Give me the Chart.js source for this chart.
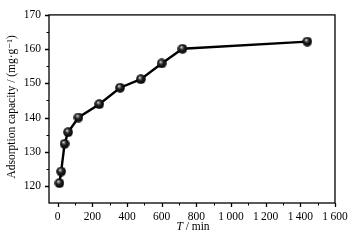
<!DOCTYPE html>
<html>
<head>
<meta charset="utf-8">
<script src="https://cdn.jsdelivr.net/npm/chart.js@4/dist/chart.umd.min.js"></script>
<style>
html,body{margin:0;padding:0;background:#fff;}
#wrap{width:359px;height:240px;position:relative;}
</style>
</head>
<body>
<div id="wrap"><canvas id="c" width="359" height="240"></canvas></div>
<script>
// ---- data ----
const timeMin = [10, 20, 40, 60, 120, 240, 360, 480, 600, 720, 1440];
const capacity = [120.8, 124.2, 132.3, 135.7, 140.0, 143.9, 148.7, 151.2, 155.8, 160.1, 162.2];
const xTicks = [0, 200, 400, 600, 800, 1000, 1200, 1400, 1600];
const xTickLabels = ['0', '200', '400', '600', '800', '1\u2009000', '1\u2009200', '1\u2009400', '1\u2009600'];
const xMinor = [100, 300, 500, 700, 900, 1100, 1300, 1500];
const yTicks = [120, 130, 140, 150, 160, 170];
const yMinor = [125, 135, 145, 155, 165];
const xTitleItalic = 'T';
const xTitleRest = ' / min';
const yTitle = 'Adsorption capacity / (mg\u00b7g\u207b\u00b9)';

const FONT = '"Liberation Serif", "DejaVu Serif", serif';

// sphere marker drawn on a small canvas
function makeSphere(d) {
  const cv = document.createElement('canvas');
  cv.width = d; cv.height = d;
  const g = cv.getContext('2d');
  const r = d / 2;
  const grd = g.createRadialGradient(r * 0.75, r * 0.62, r * 0.03, r, r, r);
  grd.addColorStop(0, '#ffffff');
  grd.addColorStop(0.15, '#9a9a9a');
  grd.addColorStop(0.45, '#222');
  grd.addColorStop(1, '#000');
  g.fillStyle = grd;
  g.beginPath(); g.arc(r, r, r - 0.2, 0, Math.PI * 2); g.fill();
  return cv;
}
const sphere = makeSphere(10);

const axisPlugin = {
  id: 'axisExtras',
  afterDraw(chart) {
    const ctx = chart.ctx;
    const xs = chart.scales.x, ys = chart.scales.y;
    const a = chart.chartArea;
    ctx.save();
    ctx.strokeStyle = '#000';
    ctx.lineWidth = 1.3;
    ctx.strokeRect(a.left, a.top, a.right - a.left, a.bottom - a.top);
    ctx.beginPath();
    xTicks.forEach(v => { const p = Math.round(xs.getPixelForValue(v)) + 0.5; ctx.moveTo(p, a.bottom); ctx.lineTo(p, a.bottom + 4); });
    yTicks.forEach(v => { const p = Math.round(ys.getPixelForValue(v)) + 0.5; ctx.moveTo(a.left, p); ctx.lineTo(a.left - 4, p); });
    ctx.stroke();
    ctx.lineWidth = 1;
    ctx.beginPath();
    xMinor.forEach(v => { const p = Math.round(xs.getPixelForValue(v)) + 0.5; ctx.moveTo(p, a.bottom); ctx.lineTo(p, a.bottom + 2.5); });
    yMinor.forEach(v => { const p = Math.round(ys.getPixelForValue(v)) + 0.5; ctx.moveTo(a.left, p); ctx.lineTo(a.left - 2.5, p); });
    ctx.stroke();
    ctx.fillStyle = '#000';
    ctx.textBaseline = 'middle';
    ctx.font = 'italic 11.5px ' + FONT;
    const w1 = ctx.measureText(xTitleItalic).width;
    ctx.font = '11.5px ' + FONT;
    const w2 = ctx.measureText(xTitleRest).width;
    const cx = (a.left + a.right) / 2 + 1;
    let sx = cx - (w1 + w2) / 2;
    ctx.font = 'italic 11.5px ' + FONT;
    ctx.textAlign = 'left';
    ctx.fillText(xTitleItalic, sx, 227);
    ctx.font = '11.5px ' + FONT;
    ctx.fillText(xTitleRest, sx + w1, 227);
    ctx.translate(12, (a.top + a.bottom) / 2 - 2);
    ctx.rotate(-Math.PI / 2);
    ctx.textAlign = 'center';
    ctx.font = '11.5px ' + FONT;
    ctx.fillText(yTitle, 0, 0);
    ctx.restore();
  }
};

new Chart(document.getElementById('c'), {
  type: 'line',
  data: {
    datasets: [{
      data: timeMin.map((t, i) => ({ x: t, y: capacity[i] })),
      borderColor: '#000',
      borderWidth: 2.4,
      pointStyle: sphere,
      pointRadius: 5,
      pointHoverRadius: 5,
      tension: 0
    }]
  },
  options: {
    responsive: false,
    animation: false,
    events: [],
    layout: { padding: { top: 9, right: 24, left: 0, bottom: 0 } },
    plugins: { legend: { display: false }, tooltip: { enabled: false } },
    scales: {
      x: {
        type: 'linear', min: -50, max: 1600,
        afterBuildTicks: s => { s.ticks = xTicks.map(v => ({ value: v })); },
        afterFit: s => { s.height = 37; },
        grid: { display: false, drawTicks: false },
        border: { display: false },
        ticks: {
          padding: 7,
          color: '#000',
          font: { family: FONT, size: 11.5 },
          maxRotation: 0,
          autoSkip: false,
          callback: (v, i) => xTickLabels[i]
        }
      },
      y: {
        type: 'linear', min: 115, max: 170,
        afterBuildTicks: s => { s.ticks = yTicks.map(v => ({ value: v })); },
        afterFit: s => { s.width = 49; },
        grid: { display: false, drawTicks: false },
        border: { display: false },
        ticks: {
          padding: 8,
          color: '#000',
          font: { family: FONT, size: 11.5 },
          callback: v => String(v)
        }
      }
    }
  },
  plugins: [axisPlugin]
});
</script>
</body>
</html>
